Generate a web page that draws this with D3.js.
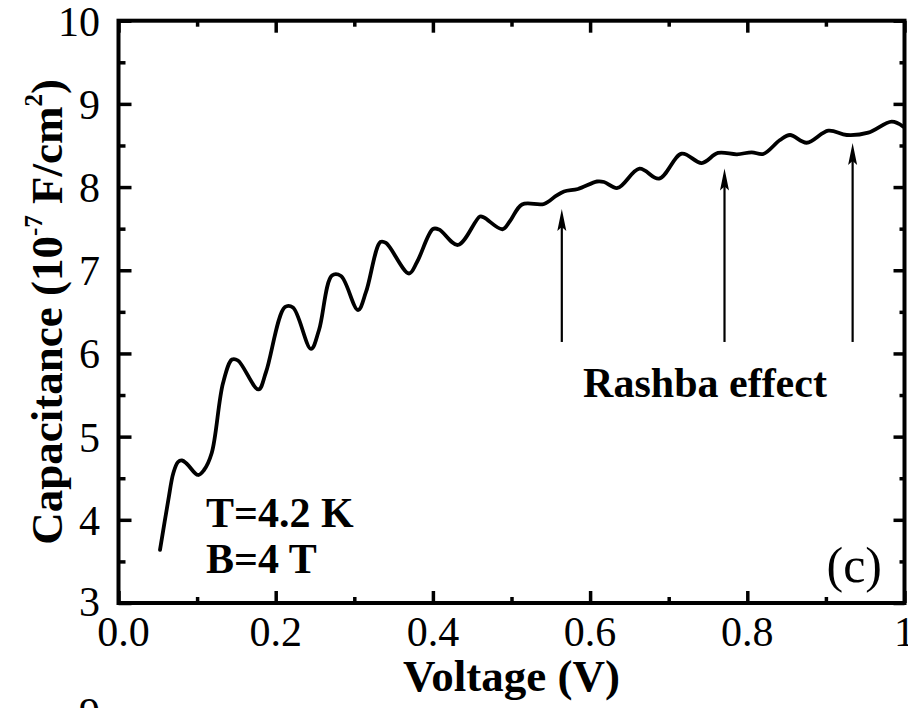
<!DOCTYPE html>
<html>
<head>
<meta charset="utf-8">
<script src="https://cdn.jsdelivr.net/npm/d3@7/dist/d3.min.js"></script>
<style>
  body { margin: 0; background: #fff; }
  svg text { font-family: "Liberation Serif", "Times New Roman", serif; fill: #000; }
</style>
</head>
<body>
<div id="chart"></div>
<script>
// capacitance trace, T=4.2 K, B=4 T
var voltage = [0.0528, 0.0634, 0.0697, 0.0757, 0.0808, 0.0872, 0.1011, 0.1088, 0.1186, 0.1330,
    0.1445, 0.1520, 0.1781, 0.1877, 0.2118, 0.2220, 0.2449, 0.2551, 0.2716, 0.2831,
    0.3047, 0.3149, 0.3333, 0.3403, 0.3696, 0.3798, 0.4001, 0.4078, 0.4319, 0.4599,
    0.4650, 0.4885, 0.4981, 0.5134, 0.5413, 0.5566, 0.5668, 0.5846, 0.6088, 0.6177,
    0.6349, 0.6628, 0.6877, 0.7165, 0.7420, 0.7627, 0.7869, 0.8056, 0.8203, 0.8416,
    0.8543, 0.8756, 0.9031, 0.9265, 0.9539, 0.9837, 0.9985];
var capacitance = [3.638, 4.239, 4.559, 4.695, 4.713, 4.671, 4.539, 4.599, 4.803, 5.645,
    5.927, 5.915, 5.567, 5.777, 6.558, 6.552, 6.054, 6.282, 6.937, 6.931,
    6.522, 6.739, 7.340, 7.328, 6.961, 7.099, 7.496, 7.490, 7.304, 7.646,
    7.634, 7.493, 7.592, 7.791, 7.797, 7.893, 7.947, 7.977, 8.067, 8.061,
    7.989, 8.221, 8.101, 8.401, 8.289, 8.410, 8.394, 8.418, 8.398, 8.566,
    8.626, 8.533, 8.678, 8.626, 8.654, 8.786, 8.726];

// Rashba arrows
var arrow_x = [0.564, 0.771, 0.934];
var arrow_base = [6.138, 6.138, 6.138];
var arrow_tip = [7.736, 8.223, 8.53];

var x_ticks = [0, 0.2, 0.4, 0.6, 0.8, 1.0];
var x_labels = ["0.0", "0.2", "0.4", "0.6", "0.8", "1"];
var x_minor = [0.1, 0.3, 0.5, 0.7, 0.9];
var y_ticks = [3, 4, 5, 6, 7, 8, 9, 10];
var y_minor = [3.5, 4.5, 5.5, 6.5, 7.5, 8.5, 9.5];

var width = 908, height = 708;
var plot_left = 118.5, plot_right = 904.5, plot_top = 20.7, plot_bottom = 603;

var svg = d3.select("#chart").append("svg")
    .attr("width", width)
    .attr("height", height);

svg.append("rect").attr("width", width).attr("height", height).attr("fill", "#fff");

var x = d3.scaleLinear().domain([0, 1]).range([plot_left, plot_right]);
var y = d3.scaleLinear().domain([3, 10]).range([plot_bottom, plot_top]);

var ink = "#000";

// ticks (all inward) via d3 axes
function tick_axis(axis, transform, values, size) {
    svg.append("g")
        .attr("transform", transform)
        .call(axis.tickValues(values).tickSize(size).tickFormat(""))
        .call(function(g) {
            g.select(".domain").remove();
            g.selectAll("line").attr("stroke", ink).attr("stroke-width", 3.5);
        });
}
tick_axis(d3.axisTop(x), "translate(0," + plot_bottom + ")", x_ticks, 12);
tick_axis(d3.axisTop(x), "translate(0," + plot_bottom + ")", x_minor, 6);
tick_axis(d3.axisBottom(x), "translate(0," + plot_top + ")", x_ticks, 12);
tick_axis(d3.axisBottom(x), "translate(0," + plot_top + ")", x_minor, 6);
tick_axis(d3.axisRight(y), "translate(" + plot_left + ",0)", y_ticks, 13);
tick_axis(d3.axisRight(y), "translate(" + plot_left + ",0)", y_minor, 7);
tick_axis(d3.axisLeft(y), "translate(" + plot_right + ",0)", y_ticks, 11);
tick_axis(d3.axisLeft(y), "translate(" + plot_right + ",0)", y_minor, 5);

// frame
svg.append("rect")
    .attr("x", plot_left).attr("y", plot_top)
    .attr("width", plot_right - plot_left).attr("height", plot_bottom - plot_top)
    .attr("fill", "none")
    .attr("stroke", ink)
    .attr("stroke-width", 4);

// tick labels (first one nudged right, clear of the "3")
svg.selectAll(".xlab")
    .data(x_ticks)
    .enter()
    .append("text")
    .attr("class", "xlab")
    .attr("x", function(d, i) { return x(d) + (i == 0 ? 5 : 0); })
    .attr("y", 646)
    .attr("text-anchor", "middle")
    .style("font-size", "42px")
    .text(function(d, i) { return x_labels[i]; });

svg.selectAll(".ylab")
    .data(y_ticks)
    .enter()
    .append("text")
    .attr("class", "ylab")
    .attr("x", 100)
    .attr("y", function(d) { return y(d) + (d == 3 ? 13 : 15); })
    .attr("text-anchor", "end")
    .style("font-size", "42px")
    .text(function(d) { return d; });

// top of the next panel's label, cut off by the page edge
svg.append("text")
    .attr("x", 100).attr("y", 727)
    .attr("text-anchor", "end")
    .style("font-size", "42px")
    .text("9");

// curve
var pts = voltage.map(function(v, i) { return [v, capacitance[i]]; });
var line = d3.line()
    .x(function(d) { return x(d[0]); })
    .y(function(d) { return y(d[1]); })
    .curve(d3.curveCatmullRom.alpha(0.5));

svg.append("path")
    .attr("d", line(pts))
    .attr("fill", "none")
    .attr("stroke", ink)
    .attr("stroke-width", 3.8)
    .attr("stroke-linejoin", "round")
    .attr("stroke-linecap", "round");

// arrows
var arrows = svg.selectAll(".arrow")
    .data(arrow_x)
    .enter()
    .append("g")
    .attr("class", "arrow");

arrows.append("line")
    .attr("x1", function(d) { return x(d); })
    .attr("x2", function(d) { return x(d); })
    .attr("y1", function(d, i) { return y(arrow_base[i]); })
    .attr("y2", function(d, i) { return y(arrow_tip[i]) + 12; })
    .attr("stroke", ink)
    .attr("stroke-width", 2.2);

arrows.append("path")
    .attr("d", function(d, i) {
        var px = x(d), py = y(arrow_tip[i]);
        return "M" + px + "," + py + "L" + (px + 4.5) + "," + (py + 22) +
            "L" + px + "," + (py + 18) + "L" + (px - 4.5) + "," + (py + 22) + "Z";
    })
    .attr("fill", ink);

// annotations
svg.append("text")
    .attr("x", 705).attr("y", 397)
    .attr("text-anchor", "middle")
    .style("font-size", "42px")
    .style("font-weight", "bold")
    .text("Rashba effect");

svg.append("text")
    .attr("x", 206).attr("y", 527)
    .style("font-size", "42px")
    .style("font-weight", "bold")
    .text("T=4.2 K");

svg.append("text")
    .attr("x", 206).attr("y", 573)
    .style("font-size", "42px")
    .style("font-weight", "bold")
    .text("B=4 T");

svg.append("text")
    .attr("x", 882).attr("y", 582)
    .attr("text-anchor", "end")
    .style("font-size", "50px")
    .text("(c)");

// axis titles
svg.append("text")
    .attr("x", (plot_left + plot_right) / 2).attr("y", 691)
    .attr("text-anchor", "middle")
    .style("font-size", "45px")
    .style("font-weight", "bold")
    .text("Voltage (V)");

var ytitle = svg.append("text")
    .attr("transform", "translate(62," + ((plot_top + plot_bottom) / 2) + ") rotate(-90)")
    .attr("text-anchor", "middle")
    .style("font-size", "45px")
    .style("font-weight", "bold");
ytitle.append("tspan").text("Capacitance (10");
ytitle.append("tspan").attr("dy", -20).style("font-size", "25px").text("-7");
ytitle.append("tspan").attr("dy", 20).text(" F/cm");
ytitle.append("tspan").attr("dy", -20).style("font-size", "25px").text("2");
ytitle.append("tspan").attr("dy", 20).text(")");
</script>
</body>
</html>
